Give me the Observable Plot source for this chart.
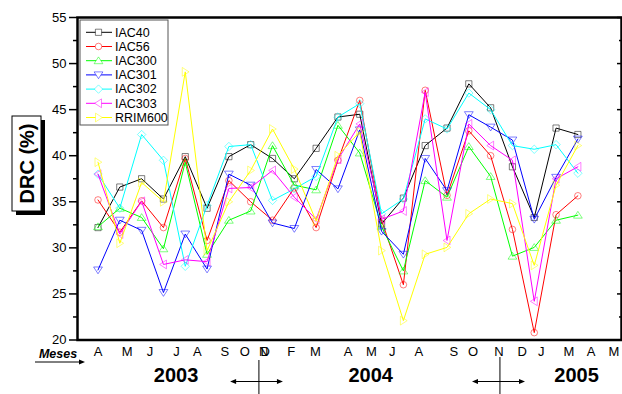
<!DOCTYPE html>
<html><head><meta charset="utf-8">
<script src="https://cdn.jsdelivr.net/npm/d3@7"></script>
<script src="https://cdn.jsdelivr.net/npm/@observablehq/plot@0.6"></script>
<style>body{margin:0;background:#fff} svg{font-family:"Liberation Sans",Arial,sans-serif}</style>
</head><body><div id="chart"></div>
<script>
// ---- data ----
const seriesNames = ["IAC40","IAC56","IAC300","IAC301","IAC302","IAC303","RRIM600"];
const IAC40   = [32.2,36.6,37.5,35.3,39.9,34.3,39.9,41.2,39.7,37.5,40.8,44.2,44.5,32.6,35.4,41.1,43.0,47.8,45.2,38.8,33.3,43.0,42.3];
const IAC56   = [35.2,31.7,35.1,32.2,39.7,30.8,37.3,35.0,33.0,36.5,32.2,39.5,46.0,33.0,26.0,47.1,35.7,42.7,40.0,32.0,20.8,33.6,35.65];
const IAC300  = [32.3,34.3,33.3,29.9,39.3,29.3,33.0,34.0,41.1,36.8,36.3,43.3,40.3,32.3,27.5,37.3,35.5,41.0,37.75,29.1,30.05,33.0,33.55];
const IAC301  = [27.6,33.0,31.9,25.15,31.5,27.7,38.0,36.8,32.7,32.1,38.5,36.4,42.8,31.8,29.3,39.7,36.2,44.45,43.1,41.7,33.1,37.65,41.8];
const IAC302  = [38.0,34.3,42.3,39.5,28.0,34.6,41.0,41.2,35.15,36.4,37.75,44.2,45.65,33.7,35.3,44.0,42.9,46.8,45.0,41.1,40.7,41.2,38.1];
const IAC303  = [38.0,31.5,35.05,28.2,28.7,28.5,36.45,36.55,38.4,35.5,33.1,39.6,43.45,33.1,34.0,46.9,30.8,43.45,41.1,39.5,24.2,37.5,38.8];
const RRIM600 = [39.3,30.5,37.1,35.0,49.1,29.7,35.0,38.4,42.9,38.55,32.9,40.0,42.6,29.7,22.1,29.3,30.05,33.7,35.3,34.8,28.1,36.8,41.1];
const seriesValues = [IAC40, IAC56, IAC300, IAC301, IAC302, IAC303, RRIM600];

const monthLabels = ["A","M","J","J","A","S","O","D","N","F","M","A","M","J","A","S","O","N","D","J","M","A","M"];
const monthPos    = [0,1.34,2.38,3.6,4.55,5.81,6.73,7.66,7.6,8.86,9.97,11.46,12.53,13.49,14.71,16.31,17.2,18.38,19.45,20.32,21.59,22.61,23.65];
const yearLabels = ["2003","2004","2005"];
const yearPos    = [3.58,12.5,21.94];

// ---- styles ----
const colors = ["#000000","#ff0000","#00ff00","#0000ff","#00ffff","#ff00ff","#ffff00"];
const symbols = [
  {draw(c){const r=3.1; c.rect(-r,-r,2*r,2*r);}},
  {draw(c){c.moveTo(3.3,0); c.arc(0,0,3.3,0,2*Math.PI);}},
  {draw(c){c.moveTo(0,-3.8); c.lineTo(4.4,3); c.lineTo(-4.4,3); c.closePath();}},
  {draw(c){c.moveTo(0,3.8); c.lineTo(4.4,-3); c.lineTo(-4.4,-3); c.closePath();}},
  {draw(c){c.moveTo(0,-4.2); c.lineTo(4.2,0); c.lineTo(0,4.2); c.lineTo(-4.2,0); c.closePath();}},
  {draw(c){c.moveTo(-3.8,0); c.lineTo(3,-4.4); c.lineTo(3,4.4); c.closePath();}},
  {draw(c){c.moveTo(3.8,0); c.lineTo(-3,-4.4); c.lineTo(-3,4.4); c.closePath();}}
];

const rows = seriesNames.map((name, s) => seriesValues[s].map((v, i) => ({name, i, v})));
const months = monthLabels.map((label, k) => ({label, pos: monthPos[k]}));
const years = yearLabels.map((label, k) => ({label, pos: yearPos[k]}));

const marks = [];
rows.forEach((r, s) => {
  marks.push(Plot.line(r, {x: "i", y: "v", stroke: colors[s], strokeWidth: 1}));
  marks.push(Plot.dot(r, {x: "i", y: "v", symbol: symbols[s], stroke: colors[s], strokeOpacity: 0.5, fill: "none", strokeWidth: 1}));
});

const svg = Plot.plot({
  width: 622, height: 394,
  marginLeft: 77, marginRight: 1, marginTop: 17, marginBottom: 54.5,
  x: {domain: [-0.94, 24.0], axis: null},
  y: {domain: [20, 55]},
  style: {fontFamily: '"Liberation Sans", Arial, sans-serif', background: "#fff"},
  marks: [
    ...marks,
    Plot.axisY({ticks: d3.range(20, 56, 5), anchor: "left", tickSize: 8, tickPadding: 3, fontSize: 13, label: null, strokeWidth: 1.5, color: "#000"}),
    Plot.axisY({ticks: d3.range(22.5, 55, 5), anchor: "left", tickSize: 4, tickFormat: () => "", label: null, strokeWidth: 1.5}),
    Plot.axisY({ticks: d3.range(20, 56, 5), anchor: "right", tickSize: -5, tickFormat: () => "", label: null, strokeWidth: 1.5}),
    Plot.axisY({ticks: d3.range(22.5, 55, 5), anchor: "right", tickSize: -3, tickFormat: () => "", label: null, strokeWidth: 1.5}),
    Plot.frame({stroke: "#000", strokeWidth: 2.5}),
    Plot.text(months, {x: "pos", text: "label", frameAnchor: "bottom", dy: 16, fontSize: 13, fill: "#000"}),
    Plot.text(years, {x: "pos", text: "label", frameAnchor: "bottom", dy: 42, fontSize: 20, fontWeight: "bold", fill: "#000"})
  ]
});

// ---- decorations ----
const xs = svg.scale("x");
const g = d3.select(svg).append("g").attr("text-anchor", "start");
const arrowHead = (x, y, dir) => g.append("path")
  .attr("d", `M${x},${y}l${-6*dir},-2.5l0,5z`).attr("fill", "#000");

// Meses label
g.append("text").attr("x", 58).attr("y", 358).attr("text-anchor", "middle")
  .attr("font-size", 12.5).attr("font-weight", "bold").attr("font-style", "italic").text("Meses");
g.append("line").attr("x1", 35).attr("x2", 80).attr("y1", 362).attr("y2", 362).attr("stroke", "#000").attr("stroke-width", 1);
arrowHead(85, 362, 1);

// year separators
[[6.08, 8.5, 7.4, 360], [17.17, 19.6, 18.45, 357]].forEach(([a, b, m, top]) => {
  const xa = xs.apply(a), xb = xs.apply(b), xm = xs.apply(m);
  g.append("line").attr("x1", xa + 4).attr("x2", xb - 4).attr("y1", 381.5).attr("y2", 381.5).attr("stroke", "#000").attr("stroke-width", 1);
  arrowHead(xb, 381.5, 1);
  arrowHead(xa, 381.5, -1);
  g.append("line").attr("x1", xm).attr("x2", xm).attr("y1", top).attr("y2", 394).attr("stroke", "#000").attr("stroke-width", 1);
});

// y-axis title box
g.append("rect").attr("x", 16).attr("y", 120).attr("width", 29).attr("height", 95).attr("fill", "#000");
g.append("rect").attr("x", 12).attr("y", 116).attr("width", 29).attr("height", 95).attr("fill", "#fff").attr("stroke", "#000").attr("stroke-width", 1);
g.append("text").attr("transform", "translate(33.5,163.5) rotate(-90)").attr("text-anchor", "middle")
  .attr("font-size", 20).attr("font-weight", "bold").text("DRC (%)");

// legend
const lg = g.append("g");
lg.append("rect").attr("x", 80).attr("y", 20).attr("width", 88).attr("height", 105).attr("fill", "#fff").attr("stroke", "#555").attr("stroke-width", 1);
seriesNames.forEach((name, s) => {
  const y = 32.3 + 14.2 * s;
  lg.append("line").attr("x1", 86).attr("x2", 112).attr("y1", y).attr("y2", y).attr("stroke", colors[s]).attr("stroke-width", 1);
  const p = d3.path(); symbols[s].draw(p);
  lg.append("path").attr("d", p.toString()).attr("transform", `translate(98.5,${y})`)
    .attr("fill", "#fff").attr("stroke", colors[s]).attr("stroke-opacity", 0.5);
  lg.append("text").attr("x", 115).attr("y", y).attr("dy", "0.35em").attr("text-anchor", "start").attr("font-size", 12.5).text(name);
});

document.getElementById("chart").appendChild(svg);
</script></body></html>
